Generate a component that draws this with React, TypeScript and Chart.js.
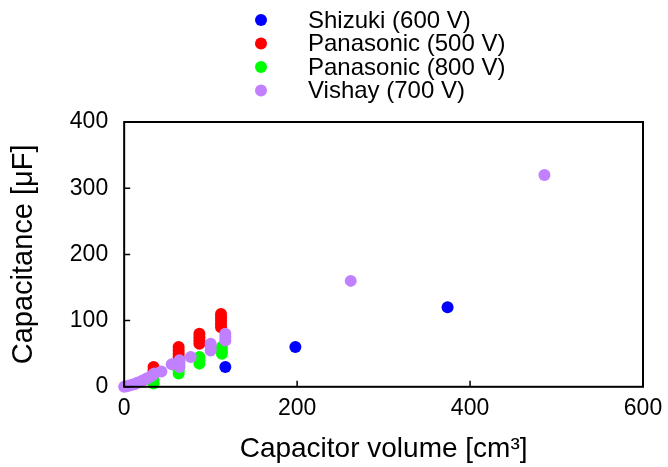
import React, { useEffect, useRef } from "react";
import { Chart, registerables } from "chart.js";

Chart.register(...registerables);

const seriesNames = ["Shizuki (600 V)", "Panasonic (500 V)", "Panasonic (800 V)", "Vishay (700 V)"];
const seriesColors = ["#0000ff", "#ff0000", "#00ff00", "#c080ff"];

const shizukiX = [117, 198, 374];
const shizukiY = [30, 60, 120];

const pana500X = [34, 34, 63, 63, 63, 63, 87, 87, 87, 87, 112, 112, 112, 112, 112];
const pana500Y = [30, 25, 60, 55, 50, 45, 80, 75, 70, 65, 110, 105, 100, 95, 90];

const pana800X = [34, 34, 63, 63, 63, 87, 87, 87, 113, 113, 113];
const pana800Y = [10, 5, 30, 25, 20, 45, 40, 35, 60, 55, 50];

const vishayX = [0, 3, 6, 9, 12, 15, 18, 21, 24, 27, 30, 33, 35, 43, 55, 64, 64, 64, 77, 100, 100, 100, 117, 117, 117, 262, 486];
const vishayY = [0, 1, 2, 3, 4, 6, 7, 9, 11, 13, 15, 18, 20, 23, 34, 30, 35, 40, 45, 55, 60, 65, 70, 75, 80, 160, 320];

const xTicks = [0, 200, 400, 600];
const yTicks = [0, 100, 200, 300, 400];

const FONT = "Arial, 'Liberation Sans', sans-serif";

const toPts = (xs: number[], ys: number[]) => xs.map((x, i) => ({ x, y: ys[i] }));

const legendPlugin = {
  id: "customLegend",
  afterDraw(chart: any) {
    const ctx = chart.ctx;
    ctx.save();
    ctx.font = `24px ${FONT}`;
    ctx.textBaseline = "middle";
    ctx.textAlign = "left";
    seriesNames.forEach((name, i) => {
      const y = 20 + i * 23.5;
      ctx.beginPath();
      ctx.fillStyle = seriesColors[i];
      ctx.arc(261, y, 6, 0, Math.PI * 2);
      ctx.fill();
      ctx.fillStyle = "#000";
      ctx.fillText(name, 308, y + 1);
    });
    ctx.restore();
  },
};

const framePlugin = {
  id: "frame",
  afterDatasetsDraw(chart: any) {
    const { ctx, chartArea } = chart;
    const { left, right, top, bottom } = chartArea;
    const xs = chart.scales.x;
    const ys = chart.scales.y;
    ctx.save();
    ctx.strokeStyle = "#000";
    ctx.lineWidth = 2;
    ctx.strokeRect(left, top, right - left, bottom - top);
    ctx.beginPath();
    xTicks.forEach((v) => {
      const px = xs.getPixelForValue(v);
      ctx.moveTo(px, bottom);
      ctx.lineTo(px, bottom - 6);
    });
    yTicks.forEach((v) => {
      const py = ys.getPixelForValue(v);
      ctx.moveTo(left, py);
      ctx.lineTo(left + 6, py);
    });
    ctx.lineWidth = 1.5;
    ctx.stroke();
    ctx.restore();
  },
};

export default function App() {
  const ref = useRef<HTMLCanvasElement>(null);
  useEffect(() => {
    document.body.style.margin = "0";
    const ctx = ref.current!;
    const mk = (i: number, xs: number[], ys: number[], order: number) => ({
      label: seriesNames[i],
      data: toPts(xs, ys),
      backgroundColor: seriesColors[i],
      borderColor: seriesColors[i],
      borderWidth: 0,
      pointRadius: 6,
      pointHoverRadius: 6,
      clip: false,
      order,
    });
    const chart = new Chart(ctx, {
      type: "scatter",
      data: {
        datasets: [
          mk(0, shizukiX, shizukiY, 1),
          mk(1, pana500X, pana500Y, 3),
          mk(2, pana800X, pana800Y, 2),
          mk(3, vishayX, vishayY, 0),
        ],
      },
      options: {
        animation: false,
        responsive: false,
        layout: { padding: { top: 122, right: 0, bottom: 1, left: 7 } },
        plugins: { legend: { display: false }, tooltip: { enabled: false } },
        scales: {
          x: {
            type: "linear",
            min: 0,
            max: 600,
            afterBuildTicks: (s: any) => {
              s.ticks = xTicks.map((v) => ({ value: v }));
            },
            afterFit: (s: any) => {
              s.paddingRight = 25;
            },
            grid: { display: false, drawTicks: false },
            border: { display: false },
            ticks: { color: "#000", font: { size: 23, family: FONT }, padding: 8 },
            title: {
              display: true,
              text: "Capacitor volume [cm³]",
              color: "#000",
              font: { size: 28, family: FONT },
              padding: { top: 2, bottom: 0 },
            },
          },
          y: {
            type: "linear",
            min: 0,
            max: 400,
            afterBuildTicks: (s: any) => {
              s.ticks = yTicks.map((v) => ({ value: v }));
            },
            grid: { display: false, drawTicks: false },
            border: { display: false },
            ticks: { color: "#000", font: { size: 23, family: FONT }, padding: 16 },
            title: {
              display: true,
              text: "Capacitance [μF]",
              color: "#000",
              font: { size: 29, family: FONT },
              padding: { top: 0, bottom: 12 },
            },
          },
        },
      },
      plugins: [legendPlugin, framePlugin],
    });
    return () => chart.destroy();
  }, []);
  return <canvas ref={ref} width={668} height={467} style={{ display: "block" }} />;
}
